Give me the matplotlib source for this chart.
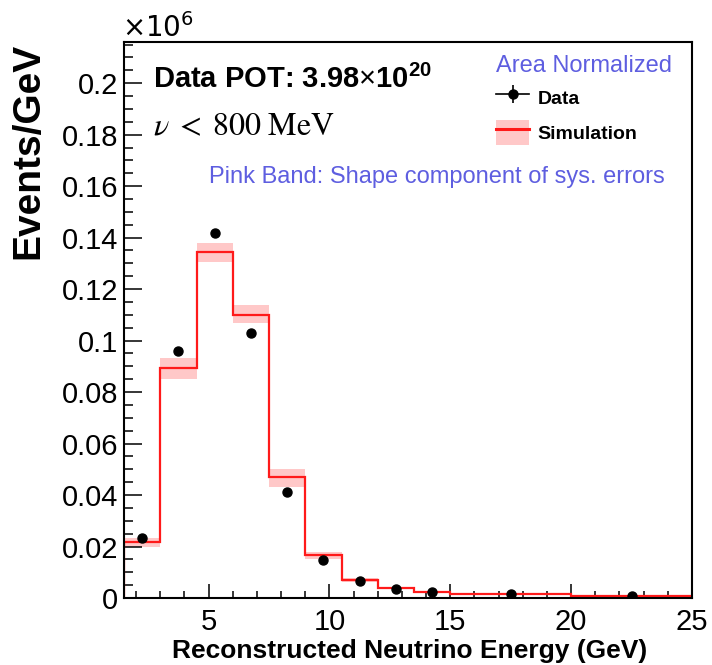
import numpy as np
import matplotlib
matplotlib.use("Agg")
import matplotlib.pyplot as plt
from matplotlib.patches import Patch
from matplotlib.lines import Line2D
from matplotlib.legend_handler import HandlerTuple
from matplotlib.ticker import MultipleLocator, FuncFormatter

plt.rcParams['font.family'] = ['Liberation Sans', 'DejaVu Sans']
plt.rcParams['mathtext.fontset'] = 'custom'
plt.rcParams['mathtext.rm'] = 'Liberation Sans'
plt.rcParams['mathtext.bf'] = 'Liberation Sans:bold'
plt.rcParams['mathtext.it'] = 'Liberation Sans:italic'

# bins in GeV, values in units of 1e6 events/GeV
bin_edges = [1.5, 3, 4.5, 6, 7.5, 9, 10.5, 12, 13.5, 15, 20, 25]
sim_vals = [0.0216, 0.0895, 0.1343, 0.1101, 0.0470, 0.0166, 0.0071, 0.0039, 0.0024, 0.0016, 0.0008]
band_lo = [0.0198, 0.0850, 0.1307, 0.1067, 0.0432, 0.0153, 0.0064, 0.0034, 0.0021, 0.0014, 0.0006]
band_hi = [0.0234, 0.0933, 0.1379, 0.1137, 0.0502, 0.0179, 0.0078, 0.0044, 0.0027, 0.0018, 0.0010]
data_x = [2.25, 3.75, 5.25, 6.75, 8.25, 9.75, 11.25, 12.75, 14.25, 17.5, 22.5]
data_y = [0.0233, 0.0959, 0.1418, 0.1029, 0.0412, 0.0146, 0.0067, 0.0036, 0.0025, 0.0017, 0.0006]
data_err = [0.0004, 0.0008, 0.0010, 0.0009, 0.0006, 0.0003, 0.0002, 0.0002, 0.0001, 0.0001, 0.0001]

pink = '#ffc8c8'
blue = '#5e5ee0'

W, H = 712, 665
fig = plt.figure(figsize=(W / 100, H / 100), dpi=100)
ax = fig.add_axes([124 / W, 1 - 598 / H, 568 / W, 556 / H])

edges = np.array(bin_edges)
lo = np.array(band_lo)
hi = np.array(band_hi)
ax.bar(edges[:-1], hi - lo, width=np.diff(edges), bottom=lo, align='edge',
       color=pink, linewidth=0, zorder=1)
ax.stairs(sim_vals, edges, color='#ff1a1a', lw=1.6, zorder=2)
ax.errorbar(data_x, data_y, yerr=data_err, fmt='o', color='black', ms=6.5,
            elinewidth=1.2, capsize=0, zorder=3)

ax.set_xlim(1.5, 25)
ax.set_ylim(0, 0.216)

ax.xaxis.set_major_locator(MultipleLocator(5))
ax.xaxis.set_minor_locator(MultipleLocator(1))
ax.yaxis.set_major_locator(MultipleLocator(0.02))
ax.yaxis.set_minor_locator(MultipleLocator(0.005))
ax.yaxis.set_major_formatter(FuncFormatter(lambda v, p: '%g' % round(v, 3)))

ax.tick_params(axis='both', which='both', direction='in', top=False, right=False,
               width=1.1, labelsize=21)
ax.tick_params(axis='y', which='major', length=13, pad=4)
ax.tick_params(axis='y', which='minor', length=6.5)
ax.tick_params(axis='x', which='major', length=10, pad=7)
ax.tick_params(axis='x', which='minor', length=5)
for sp in ax.spines.values():
    sp.set_linewidth(1.5)

# axis titles
fig.text(28 / W, 1 - 43 / H, 'Events/GeV', rotation=90, ha='center', va='top',
         fontsize=28, fontweight='bold')
fig.text(410 / W, 1 - 651 / H, 'Reconstructed Neutrino Energy (GeV)', ha='center',
         va='center', fontsize=19, fontweight='bold')
fig.text(122 / W, 1 - 28 / H, r'$\times10^{6}$', ha='left', va='center',
         fontsize=20, math_fontfamily='dejavusans')

# annotations
fig.text(153 / W, 1 - 79 / H, r'Data POT: 3.98$\times$10$^{\mathbf{20}}$', ha='left',
         va='center', fontsize=21, fontweight='bold')
fig.text(153 / W, 1 - 127 / H, r'$\nu\;<\;800\ \mathrm{MeV}$', ha='left', va='center',
         fontsize=23, math_fontfamily='stix')
fig.text(672 / W, 1 - 66 / H, 'Area Normalized', ha='right', va='center',
         fontsize=17, color=blue)
fig.text(437 / W, 1 - 177 / H, 'Pink Band: Shape component of sys. errors',
         ha='center', va='center', fontsize=17, color=blue)

h_data = (Line2D([], [], color='black', marker='o', ms=6.5, lw=1.2),
          Line2D([], [], color='black', ls='none', marker='|', ms=13, mew=1.2))
h_sim = (Patch(facecolor=pink, edgecolor='none'),
         Line2D([], [], color='#ff1a1a', lw=2.2))
leg = fig.legend([h_data, h_sim], ['Data', 'Simulation'],
                 handler_map={tuple: HandlerTuple(ndivide=1)},
                 loc='upper left', bbox_to_anchor=(496 / W, 1 - 85 / H),
                 frameon=False, prop={'weight': 'bold', 'size': 14},
                 handlelength=1.7, handleheight=1.6, handletextpad=0.45,
                 labelspacing=0.5, borderpad=0, borderaxespad=0)

fig.savefig('out.png', dpi=100)
